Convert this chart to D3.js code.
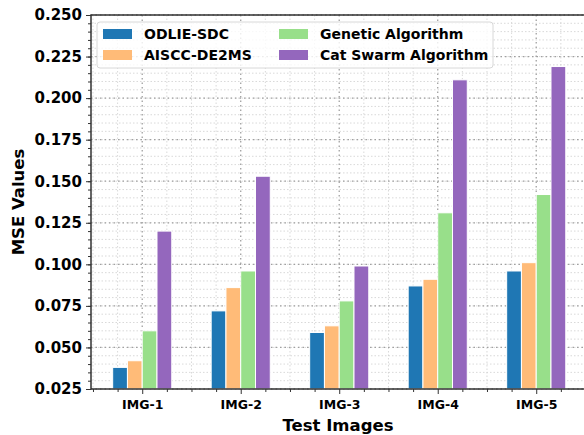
<!DOCTYPE html>
<html>
<head>
<meta charset="utf-8">
<script src="https://cdn.jsdelivr.net/npm/d3@7"></script>
<style>
  body { margin: 0; background: #fff; }
  text { font-family: "DejaVu Sans", sans-serif; font-weight: bold; fill: #000; }
</style>
</head>
<body>
<div id="chart"></div>
<script>
const categories = ["IMG-1", "IMG-2", "IMG-3", "IMG-4", "IMG-5"];
const seriesNames = ["ODLIE-SDC", "AISCC-DE2MS", "Genetic Algorithm", "Cat Swarm Algorithm"];
const odlie = [0.038, 0.072, 0.059, 0.087, 0.096];
const aiscc = [0.042, 0.086, 0.063, 0.091, 0.101];
const genetic = [0.060, 0.096, 0.078, 0.131, 0.142];
const catSwarm = [0.120, 0.153, 0.099, 0.211, 0.219];
const yTicks = [0.025, 0.050, 0.075, 0.100, 0.125, 0.150, 0.175, 0.200, 0.225, 0.250];

const series = [odlie, aiscc, genetic, catSwarm];
const colors = ["#1f77b4", "#ffbb78", "#98df8a", "#9467bd"];

const width = 584, height = 435;
const plotLeft = 91, plotTop = 15, plotBottom = 389;
const barW = 0.15;

const svg = d3.select("#chart").append("svg")
    .attr("width", width)
    .attr("height", height);

// x in category units, clipped on the right like the original
const x = d3.scaleLinear().domain([-0.52, 4.52]).range([plotLeft, plotLeft + 5.04 * 98.5]);
const y = d3.scaleLinear().domain([0.025, 0.25]).range([plotBottom, plotTop]);
const plotRight = x(4.52);

// grid
const minorY = d3.range(0.025, 0.2501, 0.005);
const minorX = d3.range(-0.5, 4.51, 0.25).filter(v => Math.abs(v - Math.round(v)) > 0.01);

const grid = svg.append("g");
grid.selectAll(".gy-minor").data(minorY).enter().append("line")
    .attr("x1", plotLeft).attr("x2", plotRight)
    .attr("y1", d => y(d)).attr("y2", d => y(d))
    .attr("stroke", "#cfcfcf").attr("stroke-width", 0.8).attr("stroke-dasharray", "1.5,2");
grid.selectAll(".gx-minor").data(minorX).enter().append("line")
    .attr("x1", d => x(d)).attr("x2", d => x(d))
    .attr("y1", plotTop).attr("y2", plotBottom)
    .attr("stroke", "#cfcfcf").attr("stroke-width", 0.8).attr("stroke-dasharray", "1.5,2");
grid.selectAll(".gy").data(yTicks).enter().append("line")
    .attr("x1", plotLeft).attr("x2", plotRight)
    .attr("y1", d => y(d)).attr("y2", d => y(d))
    .attr("stroke", "#a0a0a0").attr("stroke-width", 1.3).attr("stroke-dasharray", "1.5,3");
grid.selectAll(".gx").data(categories).enter().append("line")
    .attr("x1", (d, i) => x(i)).attr("x2", (d, i) => x(i))
    .attr("y1", plotTop).attr("y2", plotBottom)
    .attr("stroke", "#a0a0a0").attr("stroke-width", 1.3).attr("stroke-dasharray", "1.5,3");

// bars
series.forEach((vals, s) => {
    svg.append("g").selectAll("rect")
        .data(vals)
        .enter()
        .append("rect")
        .attr("x", (d, i) => x(i + (s - 2) * barW))
        .attr("width", x(barW) - x(0))
        .attr("y", d => y(d))
        .attr("height", d => y(0.025) - y(d))
        .attr("fill", colors[s])
        .attr("stroke", "#fff")
        .attr("stroke-width", 1);
});

// axes
const yAxis = svg.append("g")
    .attr("transform", `translate(${plotLeft},0)`)
    .call(d3.axisLeft(y).tickValues(yTicks).tickFormat(d3.format(".3f")).tickSize(5).tickPadding(4));
yAxis.selectAll("text").style("font-size", "15px");
svg.append("g")
    .attr("transform", `translate(${plotLeft},0)`)
    .call(d3.axisLeft(y).tickValues(minorY).tickFormat("").tickSize(3));

const xAxis = svg.append("g")
    .attr("transform", `translate(0,${plotBottom})`)
    .call(d3.axisBottom(x).tickValues(d3.range(categories.length))
        .tickFormat(i => categories[i]).tickSize(5).tickPadding(6));
xAxis.selectAll("text").style("font-size", "12.5px");
svg.append("g")
    .attr("transform", `translate(0,${plotBottom})`)
    .call(d3.axisBottom(x).tickValues(minorX).tickFormat("").tickSize(3));

svg.selectAll(".domain").remove();
svg.selectAll(".tick line").attr("stroke", "#333");

// spines
svg.append("rect")
    .attr("x", plotLeft).attr("y", plotTop)
    .attr("width", plotRight - plotLeft).attr("height", plotBottom - plotTop)
    .attr("fill", "none").attr("stroke", "#333").attr("stroke-width", 1.5);

// axis labels
svg.append("text")
    .attr("x", 338).attr("y", 431)
    .attr("text-anchor", "middle")
    .style("font-size", "16.5px")
    .text("Test Images");
svg.append("text")
    .attr("transform", `translate(24,${(plotTop + plotBottom) / 2}) rotate(-90)`)
    .attr("text-anchor", "middle")
    .style("font-size", "16.5px")
    .text("MSE Values");

// legend
const legend = svg.append("g").attr("transform", "translate(97,22)");
legend.append("rect")
    .attr("width", 396).attr("height", 46)
    .attr("rx", 3)
    .attr("fill", "#fff").attr("fill-opacity", 0.8)
    .attr("stroke", "#d8d8d8");
seriesNames.forEach((name, i) => {
    const col = Math.floor(i / 2), row = i % 2;
    const g = legend.append("g")
        .attr("transform", `translate(${6 + col * 176},${7 + row * 21})`);
    g.append("rect").attr("width", 29).attr("height", 10).attr("fill", colors[i]);
    g.append("text")
        .attr("x", 41).attr("y", 10)
        .style("font-size", "14px")
        .text(name);
});
</script>
</body>
</html>
